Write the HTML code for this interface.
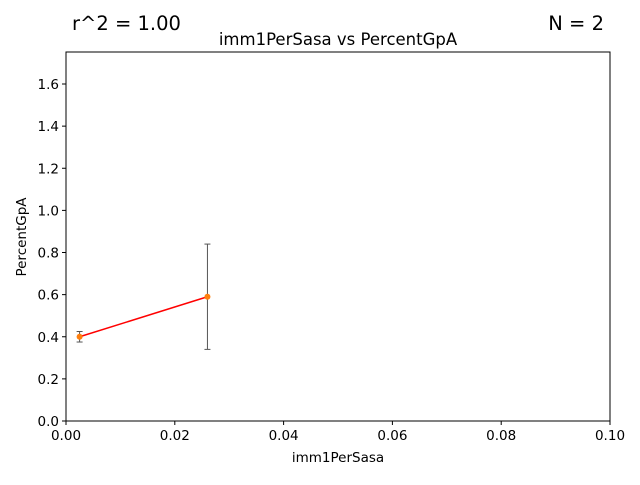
<!DOCTYPE html>
<html><head><meta charset="utf-8"><style>
body{margin:0;background:#fff;font-family:"Liberation Sans","DejaVu Sans",sans-serif}
svg text{font-family:"DejaVu Sans","Liberation Sans",sans-serif}
</style></head><body>
<svg id="c" width="640" height="480">
<rect width="640" height="480" fill="#fff"/>
<text x="72" y="30" font-size="19.5">r^2 = 1.00</text>
<text x="604" y="30" font-size="19.5" text-anchor="end">N = 2</text>
<text x="338" y="45" font-size="16.5" text-anchor="middle">imm1PerSasa vs PercentGpA</text>
<text x="338" y="462" font-size="13.5" text-anchor="middle">imm1PerSasa</text>
<text transform="translate(26,237) rotate(-90)" font-size="13.5" text-anchor="middle">PercentGpA</text>
<g id="ticks"></g>
<g id="marks"></g>
<rect x="66" y="52" width="544" height="369" fill="none" stroke="#000" stroke-width="1"/>
</svg>
<script>
const xVals=[0.0025,0.026];
const yVals=[0.40,0.59];
const yErr=[0.025,0.25];
const xTicks=[0,0.02,0.04,0.06,0.08,0.10];
const yTicks=[0,0.2,0.4,0.6,0.8,1.0,1.2,1.4,1.6];
const X0=66,X1=610,Y0=421,Y1=52,XMAX=0.1,YMAX=1.752;
function sx(v){return X0+(X1-X0)*v/XMAX}
function sy(v){return Y0-(Y0-Y1)*v/YMAX}
const NS="http://www.w3.org/2000/svg";
function mk(p,tag,a){const e=document.createElementNS(NS,tag);for(const k in a)e.setAttribute(k,a[k]);p.appendChild(e);return e}
const T=document.getElementById('ticks'),M=document.getElementById('marks');
xTicks.forEach(v=>{const x=sx(v);
 const l=mk(T,'line',{x1:x,x2:x,y1:Y0,y2:Y0+4,stroke:'#000'});
 
 
 const t=mk(T,'text',{x:x,y:Y0+19,'font-size':13.5,'text-anchor':'middle'});t.textContent=v.toFixed(2);
 
 });
yTicks.forEach(v=>{const y=sy(v);
 const l=mk(T,'line',{x1:X0-4,x2:X0,y1:y,y2:y,stroke:'#000'});
 
 
 const t=mk(T,'text',{x:X0-7,y:y+5,'font-size':13.5,'text-anchor':'end'});t.textContent=v.toFixed(1);
 
 });
const ln=mk(M,'line',{x1:sx(xVals[0]),y1:sy(yVals[0]),x2:sx(xVals[1]),y2:sy(yVals[1]),stroke:'red','stroke-width':1.5});


xVals.forEach((v,i)=>{const x=sx(v),yt=sy(yVals[i]+yErr[i]),yb=sy(yVals[i]-yErr[i]);
 const g=mk(M,'g',{stroke:'#555','stroke-width':1});
 
 
 mk(g,'line',{x1:x,x2:x,y1:yt,y2:yb});
 mk(g,'line',{x1:x-3,x2:x+3,y1:yt,y2:yt});
 mk(g,'line',{x1:x-3,x2:x+3,y1:yb,y2:yb});
 const c=mk(M,'circle',{cx:x,cy:sy(yVals[i]),r:3,fill:'#ff7f0e'});
 
 });
</script>
</body></html>
